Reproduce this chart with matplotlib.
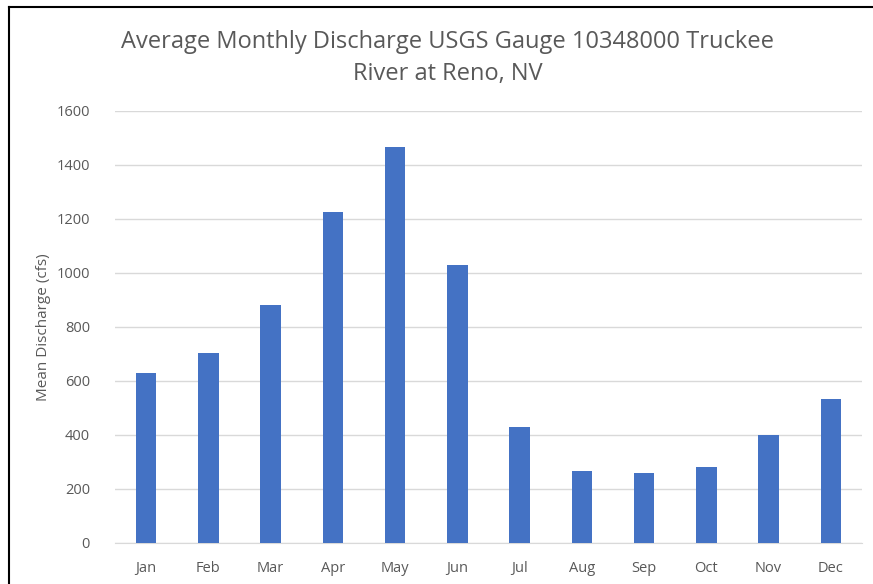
import matplotlib
matplotlib.use("Agg")
import matplotlib.pyplot as plt
from matplotlib.lines import Line2D

months = ['Jan', 'Feb', 'Mar', 'Apr', 'May', 'Jun',
          'Jul', 'Aug', 'Sep', 'Oct', 'Nov', 'Dec']
discharge = [630, 704, 881, 1227, 1466, 1030, 430, 267, 259, 281, 400, 533]
yticks = [0, 200, 400, 600, 800, 1000, 1200, 1400, 1600]

plt.rcParams['font.family'] = ['Open Sans', 'DejaVu Sans']
grey = '#595959'

fig = plt.figure(figsize=(8.73, 5.84), dpi=100)
ax = fig.add_axes([115 / 873, 1 - 543 / 584, 747 / 873, 432 / 584])

x = range(len(months))
ax.bar(x, discharge, width=0.33, color='#4472c4', zorder=3)
ax.set_xlim(-0.5, len(months) - 0.5)
ax.set_ylim(0, 1600)
ax.set_yticks(yticks)
ax.set_xticks(list(x))
ax.set_xticklabels(months)
ax.grid(axis='y', color='#d9d9d9', lw=1, zorder=0)
ax.tick_params(axis='both', length=0, colors=grey, labelsize=10.5)
ax.tick_params(axis='x', pad=13)
ax.tick_params(axis='y', pad=18)
for s in ['top', 'right', 'left']:
    ax.spines[s].set_visible(False)
ax.spines['bottom'].set_color('#d9d9d9')
ax.set_ylabel('Mean Discharge (cfs)', color=grey, fontsize=11, labelpad=4)

fig.text(448 / 873, 1 - 42 / 584, 'Average Monthly Discharge USGS Gauge 10348000 Truckee',
         ha='center', va='center', fontsize=17, color=grey)
fig.text(448 / 873, 1 - 74 / 584, 'River at Reno, NV',
         ha='center', va='center', fontsize=17, color=grey)

# frame lines at top and left like the screenshot
fig.add_artist(Line2D([9 / 873, 1], [1 - 7 / 584, 1 - 7 / 584], color='black', lw=1.5))
fig.add_artist(Line2D([9 / 873, 9 / 873], [0, 1 - 7 / 584], color='black', lw=1.5))

fig.savefig('out.png')
